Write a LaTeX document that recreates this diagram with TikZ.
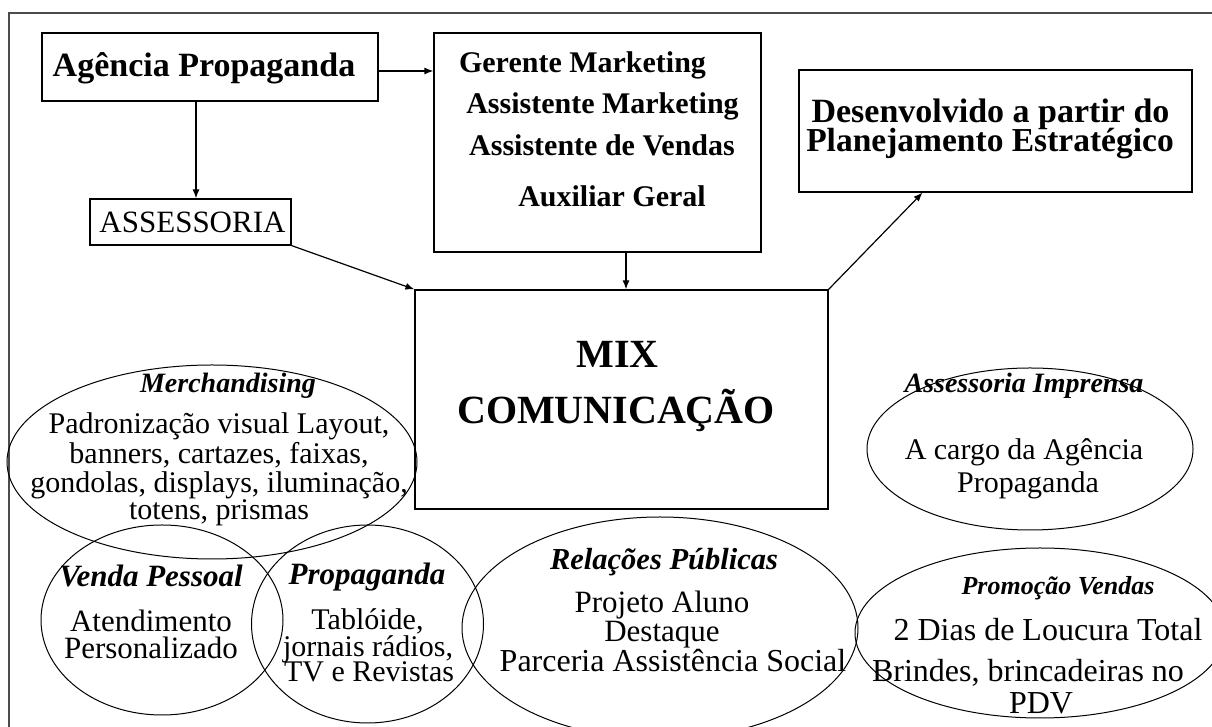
\documentclass[tikz,border=0pt]{standalone}
\usepackage{fontspec}
\setmainfont{Liberation Serif}
\usetikzlibrary{shapes.geometric,arrows.meta,calc}
\newcommand{\ftitle}{\fontsize{34}{40}\selectfont\bfseries}
\newcommand{\fstaff}{\fontsize{30}{36}\selectfont\bfseries}
\newcommand{\fmix}{\fontsize{40}{48}\selectfont\bfseries}
\newcommand{\fhead}{\fontsize{28}{34}\selectfont\bfseries\itshape}
\newcommand{\fbody}{\fontsize{30}{36}\selectfont}

\begin{document}
\begin{tikzpicture}[x=1pt,y=1pt,line width=1.2pt,>={Latex[length=9pt,width=7pt]},
        box/.style={draw,inner sep=0pt},
        bubble/.style={draw,ellipse,line width=1pt,inner sep=0pt},
        txt/.style={anchor=base,inner sep=0pt}]
        \useasboundingbox (0,0) rectangle (1212,727);
        \draw[line width=1.6pt,black!70] (9,0) -- (9,714) -- (1212,714);

        % boxes
        \node[box,minimum width=336,minimum height=68] (agencia) at (210,660) {};
        \node[box,minimum width=327,minimum height=219] (gerente) at (597.5,584.5) {};
        \node[box,minimum width=393,minimum height=122] (desenv) at (995.5,596) {};
        \node[box,minimum width=201,minimum height=46] (assess) at (190.5,505) {};
        \node[box,minimum width=413,minimum height=219] (mix) at (621.5,327.5) {};

        \node[txt] (agtxt) at (204,650) {\ftitle Agência Propaganda};
        \node[txt] (astxt) at (192.5,494) {\fontsize{31}{36}\selectfont ASSESSORIA};
        \node[txt] (ger1) at (582.5,654) {\fstaff Gerente Marketing};
        \node[txt] (ger2) at (602.5,613) {\fstaff Assistente Marketing};
        \node[txt] (ger3) at (602,571) {\fstaff Assistente de Vendas};
        \node[txt] (ger4) at (612,520) {\fstaff Auxiliar Geral};
        \node[txt] (des1) at (990.5,604) {\ftitle Desenvolvido a partir do};
        \node[txt] (des2) at (990,575) {\fontsize{33.5}{40}\selectfont\bfseries Planejamento Estratégico};
        \node[txt] (mix1) at (617.5,359) {\fmix MIX};
        \node[txt] (mix2) at (616,303) {\fmix COMUNICAÇÃO};

        \draw[->] ([yshift=-4pt]agencia.east) -- ([yshift=-4pt]agencia.east -| gerente.west);
        \draw[->] ([xshift=5.5pt]agencia.south -| assess.north) -- ([xshift=5.5pt]assess.north);
        \draw[->] (assess.south east) -- (mix.north west);
        \draw[->] ([xshift=4.5pt]gerente.south -| mix.north) -- ([xshift=4.5pt]mix.north);
        \draw[->] (mix.north east) -- ($(desenv.south west)!0.315!(desenv.south east)$);

        % ellipses
        \node[bubble,minimum width=410,minimum height=194] (merch) at (212,265) {};
        \node[bubble,minimum width=242,minimum height=190] (venda) at (162,107) {};
        \node[bubble,minimum width=232,minimum height=198] (propag) at (367.5,103) {};
        \node[bubble,minimum width=396,minimum height=222] (relac) at (660,99) {};
        \node[bubble,minimum width=326,minimum height=162] (imprensa) at (1030,278) {};
        \node[bubble,minimum width=370,minimum height=170] (promo) at (1040,94) {};

        \node[txt] (merh) at (228,334) {\fhead Merchandising};
        \node[txt] (mer1) at (219,293) {\fbody Padronização visual Layout,};
        \node[txt] (mer2) at (219,263) {\fbody banners, cartazes, faixas,};
        \node[txt] (mer3) at (219,234) {\fbody gondolas, displays, iluminação,};
        \node[txt] (mer4) at (219,207) {\fbody totens, prismas};

        \node[txt] (venh) at (151,140) {\fontsize{31}{36}\selectfont\bfseries\itshape Venda Pessoal};
        \node[txt] (ven1) at (151,95) {\fontsize{31}{36}\selectfont Atendimento};
        \node[txt] (ven2) at (151,68) {\fontsize{31}{36}\selectfont Personalizado};

        \node[txt] (proh) at (367,142) {\fontsize{31}{36}\selectfont\bfseries\itshape Propaganda};
        \node[txt] (pro1) at (367.5,97) {\fbody Tablóide,};
        \node[txt] (pro2) at (368,70) {\fbody jornais rádios,};
        \node[txt] (pro3) at (369,45) {\fbody TV e Revistas};

        \node[txt] (relh) at (664,157) {\fontsize{30.5}{36}\selectfont\bfseries\itshape Relações Públicas};
        \node[txt] (rel1) at (662,114) {\fontsize{31}{36}\selectfont Projeto Aluno};
        \node[txt] (rel2) at (662,85) {\fontsize{31}{36}\selectfont Destaque};
        \node[txt] (rel3) at (673,55) {\fontsize{32}{36}\selectfont Parceria Assistência Social};

        \node[txt] (imph) at (1024,334) {\fhead Assessoria Imprensa};
        \node[txt] (imp1) at (1024,267) {\fbody A cargo da Agência};
        \node[txt] (imp2) at (1028,234) {\fbody Propaganda};

        \node[txt] (prmh) at (1058,132) {\fontsize{26}{30}\selectfont\bfseries\itshape Promoção Vendas};
        \node[txt] (prm1) at (1048,86) {\fontsize{32}{38}\selectfont 2 Dias de Loucura Total};
        \node[txt] (prm2) at (1028,45) {\fontsize{32}{38}\selectfont Brindes, brincadeiras no};
        \node[txt] (prm3) at (1041,13) {\fontsize{32}{38}\selectfont PDV};
    \end{tikzpicture}
\end{document}
